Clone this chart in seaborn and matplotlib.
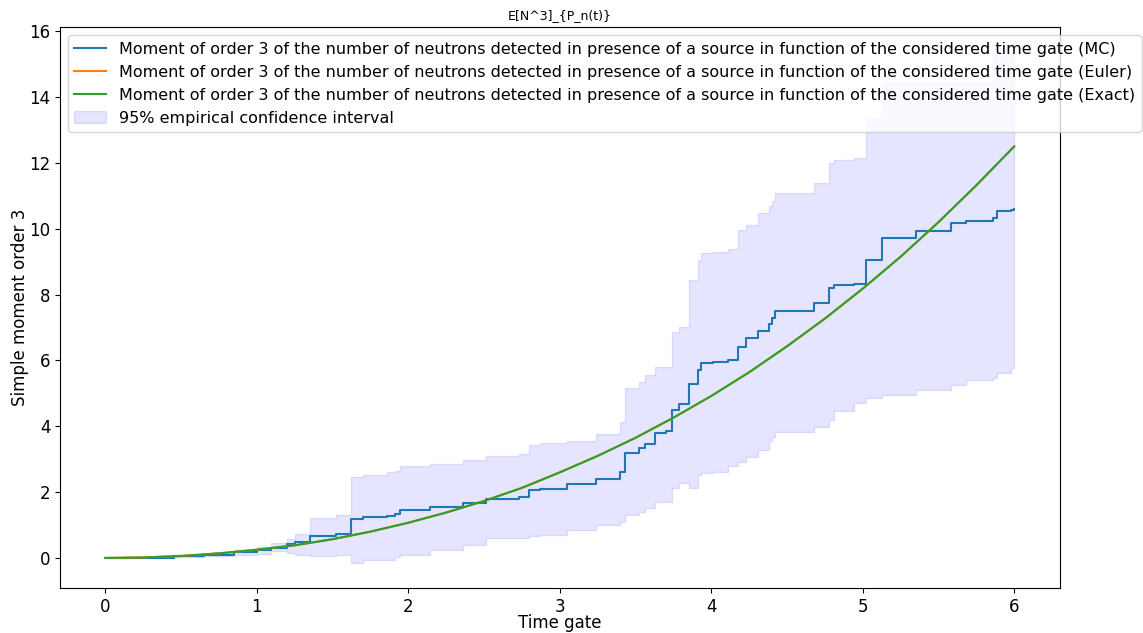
import numpy as np
import matplotlib
matplotlib.use('Agg')
import matplotlib.pyplot as plt
import seaborn as sns

# Exact / Euler moment curve
t_exact = [0.0, 0.25, 0.5, 0.75, 1.0, 1.25, 1.5, 1.75, 2.0, 2.25, 2.5, 2.75, 3.0,
           3.25, 3.5, 3.75, 4.0, 4.25, 4.5, 4.75, 5.0, 5.25, 5.5, 5.75, 6.0]
m_exact = [0.0, 0.015, 0.06, 0.14, 0.25, 0.385, 0.57, 0.8, 1.07, 1.38, 1.73, 2.13, 2.6,
           3.1, 3.65, 4.26, 4.92, 5.64, 6.43, 7.27, 8.18, 9.15, 10.2, 11.32, 12.5]
m_euler = m_exact

# Monte Carlo estimate (step function) with its 95% band
t_mc = [0.0, 0.25, 0.45, 0.65, 0.85, 1.0, 1.09, 1.2, 1.25, 1.35, 1.52, 1.62, 1.7, 1.86,
        1.91, 1.945, 2.14, 2.36, 2.51, 2.73, 2.8, 2.87, 3.05, 3.24, 3.4, 3.43, 3.52,
        3.56, 3.63, 3.7, 3.74, 3.79, 3.85, 3.91, 3.93, 4.01, 4.11, 4.18, 4.23, 4.31,
        4.38, 4.4, 4.42, 4.68, 4.78, 4.81, 4.94, 5.02, 5.13, 5.35, 5.58, 5.68, 5.86,
        5.89, 5.98, 6.0]
m_mc = [0.0, 0.012, 0.045, 0.1, 0.17, 0.23, 0.31, 0.42, 0.47, 0.66, 0.73, 1.18, 1.24, 1.28,
        1.34, 1.46, 1.56, 1.66, 1.8, 1.84, 2.07, 2.1, 2.25, 2.4, 2.62, 3.18, 3.35,
        3.45, 3.79, 3.87, 4.5, 4.67, 5.29, 5.71, 5.92, 5.96, 6.02, 6.42, 6.68, 6.91,
        7.1, 7.28, 7.5, 7.74, 8.2, 8.28, 8.33, 9.04, 9.72, 9.92, 10.19, 10.25, 10.33,
        10.53, 10.58, 10.6]
ci_low = [0.0, 0.0, 0.02, 0.05, 0.08, 0.12, 0.21, 0.15, 0.1, 0.06, 0.08, -0.14, -0.07, -0.06,
          0.04, 0.1, 0.24, 0.38, 0.6, 0.62, 0.66, 0.7, 0.85, 1.0, 1.1, 1.31, 1.41,
          1.51, 1.71, 1.71, 2.12, 2.27, 2.12, 2.52, 2.57, 2.62, 2.78, 2.93, 3.08, 3.28,
          3.54, 3.69, 3.84, 3.99, 4.19, 4.45, 4.7, 4.85, 4.95, 5.11, 5.26, 5.41, 5.46,
          5.61, 5.76, 5.8]
ci_high = [0.0, 0.03, 0.08, 0.15, 0.24, 0.32, 0.45, 0.58, 0.73, 1.22, 1.31, 2.47, 2.53, 2.6,
           2.63, 2.78, 2.84, 2.97, 3.1, 3.15, 3.43, 3.5, 3.56, 3.78, 4.14, 5.15, 5.36,
           5.56, 5.81, 5.81, 6.88, 7.03, 8.45, 9.06, 9.28, 9.31, 9.38, 9.97, 10.12, 10.48,
           10.68, 10.83, 11.1, 11.39, 12.0, 12.08, 12.15, 13.37, 14.43, 14.43, 14.43, 14.43, 15.35,
           15.35, 15.35, 15.35]

base = 'Moment of order 3 of the number of neutrons detected in presence of a source in function of the considered time gate'

fig = plt.figure(figsize=(11.43, 6.33), dpi=100)
ax = fig.add_axes([0.0525, 0.071, 0.8745, 0.886])

sns.lineplot(x=t_mc, y=m_mc, drawstyle='steps-post', color='C0', label=base + ' (MC)', ax=ax)
sns.lineplot(x=t_exact, y=m_euler, color='C1', label=base + ' (Euler)', ax=ax)
sns.lineplot(x=t_exact, y=m_exact, color='C2', label=base + ' (Exact)', ax=ax)
ax.fill_between(t_mc, ci_low, ci_high, step='post', color='blue', alpha=0.1,
                label='95% empirical confidence interval')

ax.set_title('E[N^3]_{P_n(t)}', fontsize=9)
ax.set_xlabel('Time gate', fontsize=12, labelpad=-1)
ax.set_ylabel('Simple moment order 3', fontsize=12, labelpad=0)
ax.tick_params(labelsize=12)
ax.set_yticks(np.arange(0, 17, 2))
ax.legend(loc='upper left', fontsize=11.5)

plt.savefig('out.png')
